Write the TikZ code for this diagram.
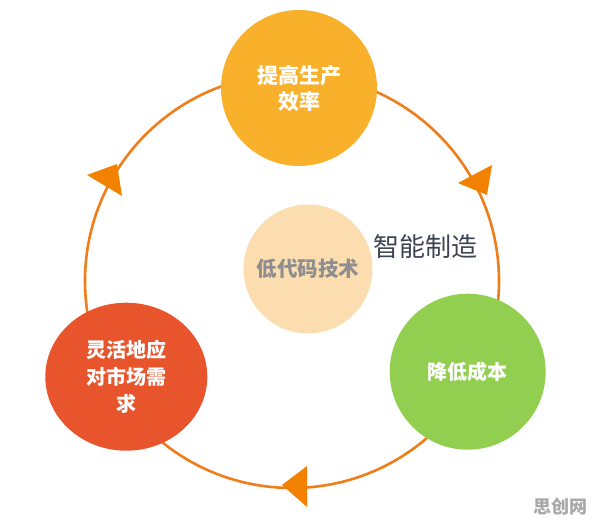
\documentclass[tikz,border=0pt]{standalone}
\usepackage{fontspec}
\usepackage[dvipsnames]{xcolor}
\usetikzlibrary{positioning,shapes.geometric}
\newfontfamily\cjk{Noto Sans CJK SC}

\definecolor{effcolor}{HTML}{F9B12C}
\definecolor{flexcolor}{HTML}{E8552D}
\definecolor{costcolor}{HTML}{92CF51}
\definecolor{lowcolor}{HTML}{FCDDB0}
\definecolor{lowtext}{HTML}{8E8E8E}
\definecolor{ringcolor}{HTML}{EE7D1A}
\definecolor{tipcolor}{HTML}{F28100}
\definecolor{smarttext}{HTML}{3D4451}
\definecolor{marktext}{HTML}{A8A8A8}

\begin{document}
\begin{tikzpicture}[x=1pt,y=-1pt,node distance=100pt,
    big node/.style={circle,minimum size=156pt,inner sep=0pt,text=white,align=center,font=\cjk\bfseries\fontsize{21}{26}\selectfont},
    ring/.style={draw=ringcolor,line width=2.6pt},
    tip/.style={fill=tipcolor}]

            \useasboundingbox (0,0) rectangle (596,526);

            % the cycle behind the circles
            \coordinate (hub) at (292,281);
            \draw[ring] (hub) circle (207);
            \fill[tip] (458,183) -- (492,165) -- (487,195) -- cycle;
            \fill[tip] (282,485) -- (307,466) -- (307,507) -- cycle;
            \fill[tip] (87,175) -- (117,164) -- (122,196) -- cycle;

            \node[circle,fill=lowcolor,minimum size=129pt,inner sep=0pt,text=lowtext,font=\cjk\bfseries\fontsize{20.5}{24}\selectfont] (low) at (308,269) {低代码技术};
            \node[big node,fill=effcolor] (eff) [above of = low, xshift=-9, yshift=81]{提高生产\\效率};
            \node[big node,ellipse,minimum width=162pt,minimum height=148pt,fill=flexcolor,font=\cjk\bfseries\fontsize{20}{27}\selectfont] (flex) [below left of = low, xshift=-111, yshift=-37]{灵活地应\\对市场需\\求};
            \node[big node,fill=costcolor,font=\cjk\bfseries\fontsize{20}{26}\selectfont] (cost) [below right of = low, xshift=89, yshift=-32]{降低成本};
            \node[text=smarttext,font=\cjk\fontsize{26}{30}\selectfont] (smart) [right of = low, xshift=17, yshift=22]{智能制造};

            \node[text=marktext,font=\cjk\bfseries\fontsize{18}{20}\selectfont] (mark) at (560,507) {思创网};
        \end{tikzpicture}
\end{document}
